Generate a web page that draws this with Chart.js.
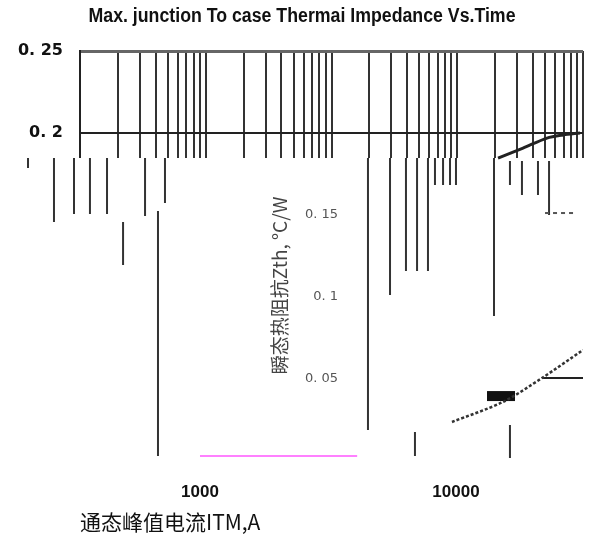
<!DOCTYPE html>
<html>
<head>
<meta charset="utf-8">
<script src="https://cdn.jsdelivr.net/npm/chart.js@4/dist/chart.umd.min.js"></script>
<style>
  html, body { margin: 0; padding: 0; background: #fff; }
  #wrap { width: 593px; height: 541px; }
</style>
</head>
<body>
<div id="wrap"><canvas id="chart" width="593" height="541"></canvas></div>
<script>
// tick labels
const leftTicks = [0.2, 0.25];
const midTicks = [0.05, 0.1, 0.15];
const currentTicks = [1000, 10000];

// Zth curve near the top right
const zthTime = [2110, 3335, 5170, 6935, 9470];
const zthValue = [0.1847, 0.1908, 0.1969, 0.1988, 0.2];

// dotted curve in the lower right
const lowTime = [908, 2310, 4720, 10000];
const lowValue = [0.0238, 0.036, 0.0506, 0.0677];

// broken grid pieces under the 0.2 line (x, top, bottom)
const fragX = [0.386, 0.621, 0.896, 1.2, 1.64, 3.29, 4.17, 4.74, 2.2, 195, 292, 391, 479, 585, 665, 771, 876, 977, 1960, 2625, 3270, 4385, 5370, 461, 2625];
const fragTop = [0.1848, 0.1848, 0.1848, 0.1848, 0.1848, 0.1848, 0.1524, 0.1848, 0.1457, 0.1848, 0.1848, 0.1848, 0.1848, 0.1848, 0.1848, 0.1848, 0.1848, 0.1848, 0.1848, 0.183, 0.183, 0.183, 0.183, 0.0177, 0.022];
const fragBottom = [0.1787, 0.1457, 0.1506, 0.1506, 0.1506, 0.1494, 0.003, 0.1573, 0.1195, 0.0189, 0.1012, 0.1159, 0.1159, 0.1159, 0.1683, 0.1683, 0.1683, 0.1683, 0.0884, 0.1683, 0.1622, 0.1622, 0.15, 0.003, 0.0018];

// small loose marks
const pinkX = [9, 160];
const pinkY = [0.003, 0.003];
const barX = [4810, 10000];
const barY = [0.0506, 0.0506];
const blockX = [1725, 2880];
const blockY = [0.0396, 0.0396];
const dashX = [4990, 8950];
const dashY = [0.1512, 0.1512];

// white band that hides the grid below the 0.2 area, like the scan
const maskX = [0.95, 10600];
const maskY = [0.0915, 0.0915];
const maskTop = 0.183;

const titleText = 'Max. junction To case Thermai Impedance Vs.Time';

const pts = (xs, ys) => xs.map((x, i) => ({ x: x, y: ys[i] }));
const fragPts = fragX.flatMap((x, i) => [{ x: x, y: fragTop[i] }, { x: x, y: fragBottom[i] }, { x: x, y: null }]);

// 1..9 x 10^k grid for the log axis
const gridVals = [];
for (let k = 0; k < 4; k++) {
  for (let s = 1; s < 10; s++) gridVals.push(s * Math.pow(10, k));
}
gridVals.push(10000);

const plain = { pointRadius: 0, borderWidth: 2, fill: false, tension: 0 };

// condensed title on top + rotated y title in the middle of the plot
const extraText = {
  id: 'extraText',
  afterDraw(chart) {
    const { ctx, scales } = chart;
    ctx.save();
    ctx.font = 'bold 20px "Liberation Sans"';
    ctx.fillStyle = '#111';
    ctx.textAlign = 'center';
    ctx.textBaseline = 'alphabetic';
    const w = ctx.measureText(titleText).width;
    ctx.translate(302, 22);
    ctx.scale(427 / w, 1);
    ctx.fillText(titleText, 0, 0);
    ctx.restore();

    ctx.save();
    ctx.translate(scales.x.getPixelForValue(39), scales.y.getPixelForValue(0.107));
    ctx.rotate(-Math.PI / 2);
    ctx.font = '19px "Noto Sans CJK SC"';
    ctx.fillStyle = '#444';
    ctx.textAlign = 'center';
    ctx.textBaseline = 'middle';
    ctx.fillText('瞬态热阻抗Zth, °C/W', 0, 0);
    ctx.restore();
  }
};

const maskWidth = c => {
  const y = c.chart.scales.y;
  return y ? y.getPixelForValue(0) - y.getPixelForValue(maskTop) + 6 : 0;
};

new Chart(document.getElementById('chart'), {
  type: 'line',
  data: {
    datasets: [
      { ...plain, data: pts(maskX, maskY), borderColor: '#fff', borderWidth: maskWidth, borderCapStyle: 'butt', clip: false, order: 10 },
      { ...plain, data: fragPts, borderColor: '#333', clip: false, order: 5 },
      { ...plain, data: pts(zthTime, zthValue), borderColor: '#222', borderWidth: 3, tension: 0.3 },
      { ...plain, data: pts(lowTime, lowValue), borderColor: '#333', borderWidth: 2.5, borderDash: [3, 2], tension: 0.3 },
      { ...plain, data: pts(pinkX, pinkY), borderColor: '#ff80ff' },
      { ...plain, data: pts(barX, barY), borderColor: '#222' },
      { ...plain, data: pts(blockX, blockY), borderColor: '#111', borderWidth: 10 },
      { ...plain, data: pts(dashX, dashY), borderColor: '#555', borderDash: [4, 4] }
    ]
  },
  options: {
    responsive: false,
    animation: false,
    layout: { padding: { left: 0, right: 10, top: 51, bottom: 0 } },
    plugins: {
      legend: { display: false },
      tooltip: { enabled: false },
      title: { display: false }
    },
    scales: {
      x: {
        type: 'logarithmic',
        position: 'bottom',
        min: 1,
        max: 10000,
        afterBuildTicks: s => { s.ticks = gridVals.map(v => ({ value: v })); },
        afterFit: s => { s.height = 0; },
        grid: { color: '#333', lineWidth: 2, drawTicks: false },
        border: { display: false },
        ticks: { display: false }
      },
      x2: {
        type: 'logarithmic',
        axis: 'x',
        position: 'bottom',
        min: 340,
        max: 31350,
        afterBuildTicks: s => { s.ticks = currentTicks.map(v => ({ value: v })); },
        afterFit: s => { s.height = 80; },
        grid: { display: false, drawTicks: false },
        border: { display: false },
        ticks: {
          padding: 21, color: '#111', maxRotation: 0, autoSkip: false,
          font: { family: 'Liberation Sans', size: 17, weight: 'bold' },
          callback: v => String(v)
        },
        title: {
          display: true,
          text: '通态峰值电流ITM,A',
          align: 'start',
          color: '#111',
          font: { family: 'Noto Sans CJK SC', size: 21, lineHeight: 1.2 },
          padding: { top: 0, bottom: 6 }
        }
      },
      y: {
        min: 0,
        max: 0.25,
        afterBuildTicks: s => { s.ticks = leftTicks.map(v => ({ value: v })); },
        afterFit: s => { s.width = 80; },
        grid: {
          drawTicks: false,
          color: c => (c.tick && c.tick.value === 0.25 ? '#666' : '#222'),
          lineWidth: c => (c.tick && c.tick.value === 0.25 ? 3 : 2)
        },
        border: { display: true, color: '#222', width: 2 },
        ticks: {
          padding: 17, color: '#111',
          font: { family: 'DejaVu Sans', size: 16, weight: 'bold' },
          callback: v => String(v).replace('.', '. ')
        }
      },
      y2: {
        axis: 'y',
        position: { x: 112.6 },
        min: 0,
        max: 0.25,
        afterBuildTicks: s => { s.ticks = midTicks.map(v => ({ value: v })); },
        grid: { display: false, drawTicks: false },
        border: { display: false },
        ticks: {
          z: 1,
          color: '#555',
          font: { family: 'DejaVu Sans', size: 13 },
          callback: v => String(v).replace('.', '. ')
        }
      }
    }
  },
  plugins: [extraText]
});
</script>
</body>
</html>
